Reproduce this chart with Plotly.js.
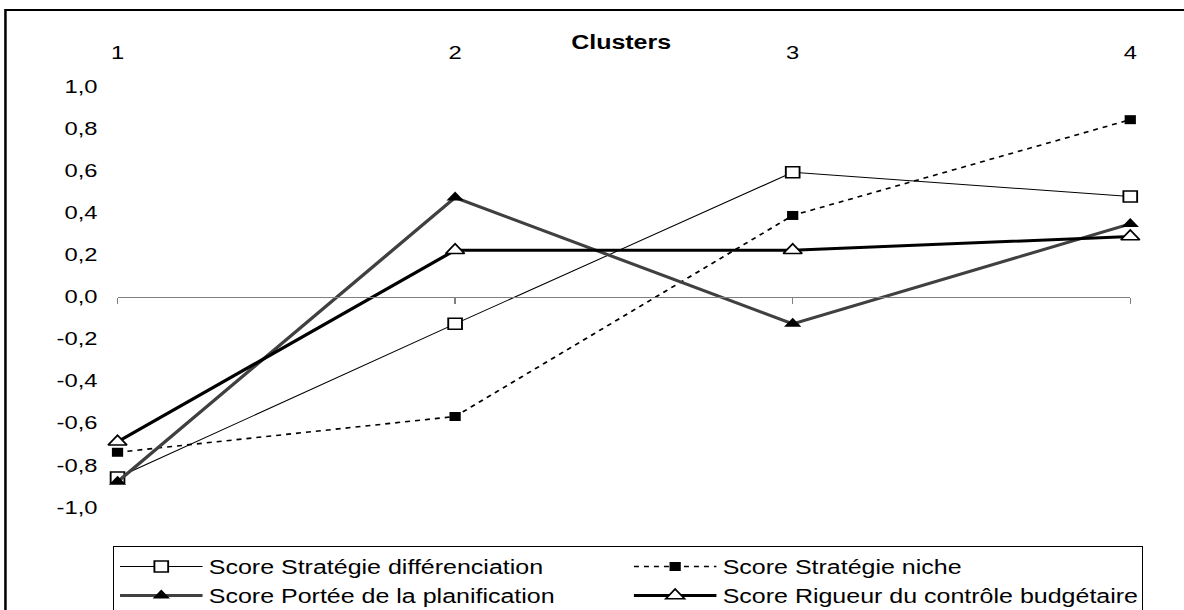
<!DOCTYPE html>
<html>
<head>
<meta charset="utf-8">
<script src="https://cdn.plot.ly/plotly-3.0.1.min.js"></script>
<style>
html,body{margin:0;padding:0;background:#fff;overflow:hidden;}
#wrap{width:1184px;height:610px;overflow:hidden;}
#chart{width:947px;height:610px;transform:scaleX(1.2503);transform-origin:0 0;}
</style>
</head>
<body>
<div id="wrap"><div id="chart"></div></div>
<script>
const clusters = ['1', '2', '3', '4'];
const seriesNames = [
  'Score Stratégie différenciation',
  'Score Stratégie niche',
  'Score Portée de la planification',
  'Score Rigueur du contrôle budgétaire'
];
const differenciation = [-0.86, -0.13, 0.59, 0.475];
const niche = [-0.74, -0.57, 0.385, 0.84];
const portee = [-0.88, 0.47, -0.13, 0.345];
const rigueur = [-0.69, 0.22, 0.22, 0.285];
const yTicks = [-1, -0.8, -0.6, -0.4, -0.2, 0, 0.2, 0.4, 0.6, 0.8, 1];
const yTickText = ['-1,0', '-0,8', '-0,6', '-0,4', '-0,2', '0,0', '0,2', '0,4', '0,6', '0,8', '1,0'];

const FONT = 'Liberation Sans, Arial, sans-serif';
const W = 947, H = 610;
const L = 94.4, R = W - 904, T = 86, B = 103;
const PW = W - L - R, PH = H - T - B;

const traces = [
  {x: clusters, y: differenciation, name: seriesNames[0], type: 'scatter', mode: 'lines+markers',
   line: {color: '#000', width: 1},
   marker: {symbol: 'square', size: 11, color: '#fff', line: {color: '#000', width: 1.5}},
   cliponaxis: false},
  {x: clusters, y: niche, name: seriesNames[1], type: 'scatter', mode: 'lines+markers',
   line: {color: '#000', width: 1.6, dash: '4px,4px'},
   marker: {symbol: 'square', size: 9, color: '#000', line: {width: 0}},
   cliponaxis: false},
  {x: clusters, y: portee, name: seriesNames[2], type: 'scatter', mode: 'lines+markers',
   line: {color: '#404040', width: 3},
   marker: {symbol: 'triangle-up', size: 12, color: '#000', line: {width: 0}},
   cliponaxis: false},
  {x: clusters, y: rigueur, name: seriesNames[3], type: 'scatter', mode: 'lines+markers',
   line: {color: '#000', width: 3},
   marker: {symbol: 'triangle-up', size: 13, color: '#fff', line: {color: '#000', width: 1.5}},
   cliponaxis: false},
  {x: clusters, y: [null, null, null, null], xaxis: 'x2', yaxis: 'y', showlegend: false,
   hoverinfo: 'skip', mode: 'lines', line: {width: 0}}
];

const layout = {
  width: W, height: H,
  margin: {l: L, r: R, t: T, b: B, autoexpand: false},
  paper_bgcolor: '#fff', plot_bgcolor: '#fff',
  font: {family: FONT, size: 19, color: '#000'},
  showlegend: true,
  title: {text: '<b>Clusters</b>', font: {family: FONT, size: 20, color: '#000'},
          x: 496.8 / W, xanchor: 'center', xref: 'container', y: 1 - 42 / H, yanchor: 'middle', yref: 'container'},
  xaxis: {type: 'category', side: 'top', range: [0, 3], showline: false, showgrid: false, zeroline: false,
          ticks: '', ticklabelstandoff: 22, tickfont: {family: FONT, size: 19, color: '#000'}},
  xaxis2: {type: 'category', overlaying: 'x', matches: 'x', anchor: 'free', position: 0.5, side: 'bottom',
           range: [0, 3], showline: true, linecolor: '#808080', linewidth: 1, ticks: 'outside', ticklen: 6,
           tickcolor: '#808080', tickwidth: 1, showticklabels: false, showgrid: false, zeroline: false},
  yaxis: {range: [-1, 1], tickvals: yTicks, ticktext: yTickText, showline: false, showgrid: false, zeroline: false,
          ticks: '', ticklabelstandoff: 15, tickfont: {family: FONT, size: 19, color: '#000'}},
  legend: {orientation: 'h', x: (90.4 - L) / PW, xanchor: 'left', y: (507 - 546) / PH, yanchor: 'top',
           bordercolor: '#000', borderwidth: 1, bgcolor: '#fff',
           font: {family: FONT, size: 20, color: '#000'},
           itemwidth: 66, entrywidth: 330, entrywidthmode: 'pixels', traceorder: 'normal'},
  shapes: [
    {type: 'rect', xref: 'paper', yref: 'paper', x0: (4.8 - L) / PW, x1: (1000 - L) / PW,
     y0: (507 - 640) / PH, y1: (507 - 10) / PH, line: {color: '#000', width: 2}, fillcolor: 'rgba(0,0,0,0)', layer: 'below'}
  ]
};

Plotly.newPlot('chart', traces, layout, {displayModeBar: false, staticPlot: true});
</script>
</body>
</html>
